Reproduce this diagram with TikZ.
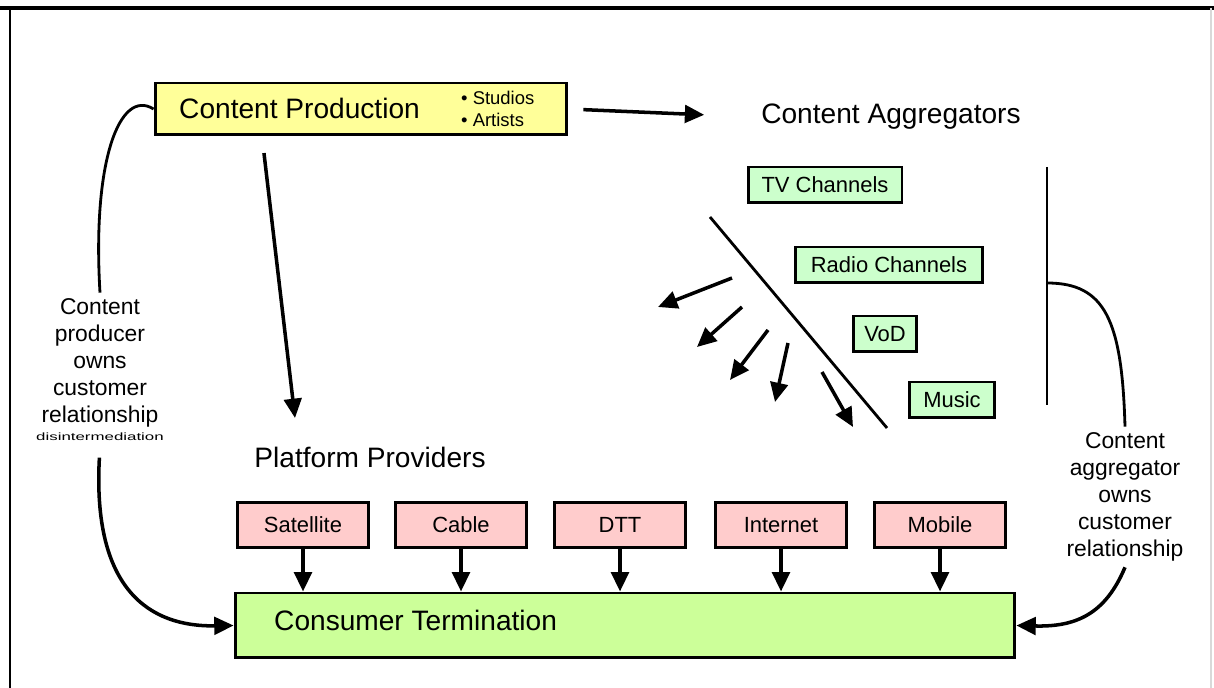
\documentclass[tikz,border=0pt]{standalone}
\usepackage{fontspec}
\setmainfont{Liberation Sans}
\usetikzlibrary{arrows.meta,positioning,calc}
\definecolor{prodyellow}{HTML}{FFFF99}
\definecolor{aggrgreen}{HTML}{CCFFCC}
\definecolor{platpink}{HTML}{FFCCCC}
\definecolor{termlime}{HTML}{CCFF99}
\tikzset{
  bigtxt/.style={font=\fontsize{16}{19}\selectfont},
  midtxt/.style={font=\fontsize{12.5}{15}\selectfont},
  sidetxt/.style={font=\fontsize{13}{15.3}\selectfont,align=center},
  box/.style={draw,line width=1.7pt,inner sep=0pt},
  fat/.style={line width=2pt,-{Triangle[length=11pt,width=10pt]}},
  thin/.style={line width=1.6pt}
}
\begin{document}
\begin{tikzpicture}[x=0.02cm,y=-0.02cm]
\useasboundingbox (0,0) rectangle (1214,688);
\draw[line width=2.8pt] (0,8)--(1214,8);
\draw[line width=1.7pt] (10,8)--(10,688);
\draw[gray!30,line width=0.6pt] (1211,8)--(1211,688);
\node[box,fill=prodyellow,minimum width=8.24cm,minimum height=1.04cm] (cp) at (361,109){};
\node[bigtxt,anchor=west] at (173,108){Content Production};
\node[font=\fontsize{10.5}{12.5}\selectfont,align=left,anchor=west] at (455,109){• Studios\\• Artists};
\node[bigtxt] (agg) at (891,117){Content Aggregators};
\draw[fat,shorten <=8.5pt,shorten >=29pt] (cp.east)--(agg.west);
\foreach \nm/\x/\y/\w/\lab in {tv/825/185/3.08/TV Channels,radio/889/265/3.74/Radio Channels,vod/885/334/1.26/VoD,music/952/400/1.7/Music}{\node[box,fill=aggrgreen,midtxt,minimum width=\w cm,minimum height=0.72cm] (\nm) at (\x,\y){\lab};}
\draw[thin] (710,217)--(887,428);
\foreach \a/\b/\c/\d in {732/278/658/307,742/307/697/347,768/330/730/380,788/343/775/402,822/372/853/427}{\draw[fat] (\a,\b)--(\c,\d);}
\coordinate (brtop) at (1047,167);
\coordinate (brbot) at (1047,405);
\coordinate (brmid) at (1047,283);
\draw[thin] (brtop)--(brbot);
\node[bigtxt] (plat) at (370,457){Platform Providers};
\coordinate (dn) at (295,418);
\draw[fat,shorten <=9.5pt] ([xshift=-1.98cm]cp.south)--(dn);
\node[box,fill=termlime,minimum width=15.6cm,minimum height=1.3cm] (ct) at (625,625.5){};
\node[bigtxt,anchor=west] at (268,620){Consumer Termination};
\foreach \nm/\x/\lab in {sat/303/Satellite,cab/461/Cable,dtt/620/DTT,inet/781/Internet,mob/940/Mobile}{
  \node[box,fill=platpink,midtxt,minimum width=2.62cm,minimum height=0.9cm] (\nm) at (\x,525){\lab};
  \draw[fat] (\nm.south)--(\nm.south |- ct.north);}
\node[sidetxt] (prodlab) at (100,363){Content\\producer\\owns\\customer\\relationship};
\node[font=\fontsize{6}{7}\selectfont] (disint) at (100,437){\scalebox{1.6}[1]{disintermediation}};
\draw[thin] (cp.west) .. controls (120,88) and (92,160) .. (prodlab.north);
\draw[fat,shorten <=6pt] (disint.south) .. controls (92,590) and (150,627) .. (ct.west);
\node[sidetxt] (aggrlab) at (1125,497){Content\\aggregator\\owns\\customer\\relationship};
\draw[thin] (brmid) .. controls (1105,283) and (1122,320) .. (aggrlab.north);
\draw[fat] (aggrlab.south) .. controls (1105,615) and (1075,627) .. (ct.east);
\end{tikzpicture}
\end{document}
